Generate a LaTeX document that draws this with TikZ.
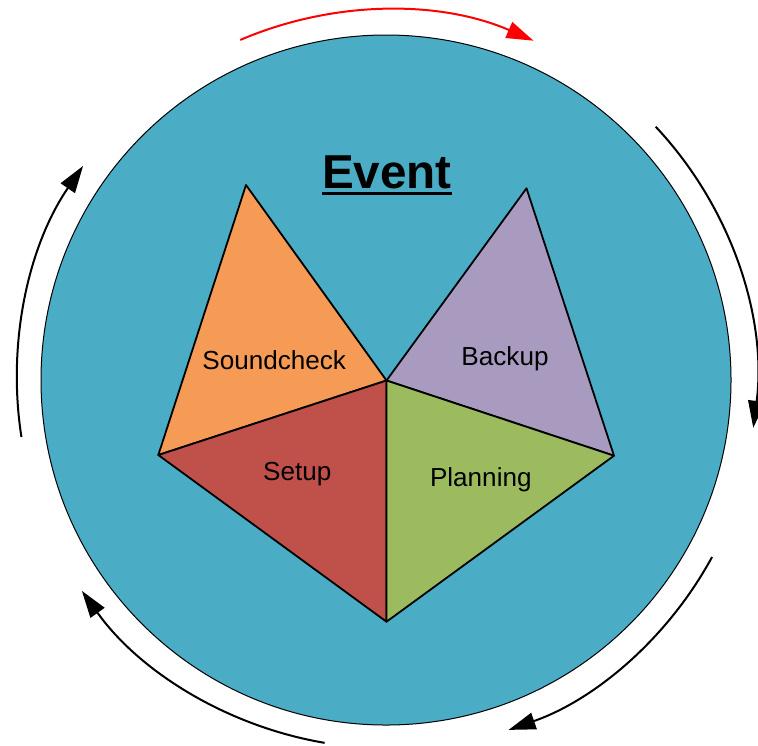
\documentclass[tikz,border=0pt]{standalone}
\usepackage{fontspec}
\setmainfont{Liberation Sans}
\usetikzlibrary{arrows.meta}
\definecolor{aqua}{HTML}{4BACC6}
\definecolor{orangef}{HTML}{F59B56}
\definecolor{redf}{HTML}{C0504A}
\definecolor{greenf}{HTML}{9CBB5F}
\definecolor{purplef}{HTML}{A99BC0}
\begin{document}
\begin{tikzpicture}[x=0.5pt,y=-0.5pt,
  cyc/.style={line width=1pt,-{Triangle[length=13.5pt,width=8.5pt]}},
  tri/.style={draw=black,line width=0.9pt,line join=round},
  lbl/.style={anchor=base,inner sep=0pt,font=\fontsize{13.05}{15}\selectfont}]
\useasboundingbox (0,0) rectangle (758,745);
\coordinate (c) at (386,380);
\fill[aqua] (c) circle[radius=345];
\draw[line width=0.5pt] (c) circle[radius=345];
% triangle vertices
\coordinate (m) at (386.5,380.5);
\coordinate (sa) at (246,185);
\coordinate (l) at (158.3,455);
\coordinate (b) at (386.5,621.7);
\coordinate (ba) at (526.5,188.3);
\coordinate (r) at (614,455.7);
\filldraw[tri,fill=orangef] (sa) -- (m) -- (l) -- cycle;
\filldraw[tri,fill=purplef] (ba) -- (r) -- (m) -- cycle;
\filldraw[tri,fill=redf] (l) -- (m) -- (b) -- cycle;
\filldraw[tri,fill=greenf] (m) -- (r) -- (b) -- cycle;
\node[lbl] (snd) at (274.2,369) {Soundcheck};
\node[lbl] (bkp) at (505,365) {Backup};
\node[lbl] (stp) at (297.3,480) {Setup};
\node[lbl] (pln) at (480.8,486.7) {Planning};
\node[anchor=base,inner sep=0pt,font=\fontsize{23.8}{28}\selectfont\bfseries] (ev) at (387,188) {Event};
\draw[line width=1.6pt] ([yshift=-2.6pt]ev.base west) -- ([yshift=-2.6pt]ev.base east);
% cycle arrows
\draw[cyc,red] ([shift={(-113.2:370)}]c) arc[start angle=-113.2,end angle=-66.5,radius=370];
\draw[cyc] ([shift={(-43.2:370)}]c) arc[start angle=-43.2,end angle=7.3,radius=371];
\draw[cyc] ([shift={(28.5:371)}]c) arc[start angle=28.5,end angle=70.8,radius=370];
\draw[cyc] ([shift={(99.6:368)}]c) arc[start angle=99.6,end angle=144.5,radius=375];
\draw[cyc] ([shift={(171.1:369)}]c) arc[start angle=171.1,end angle=214.5,radius=376];
\end{tikzpicture}
\end{document}
